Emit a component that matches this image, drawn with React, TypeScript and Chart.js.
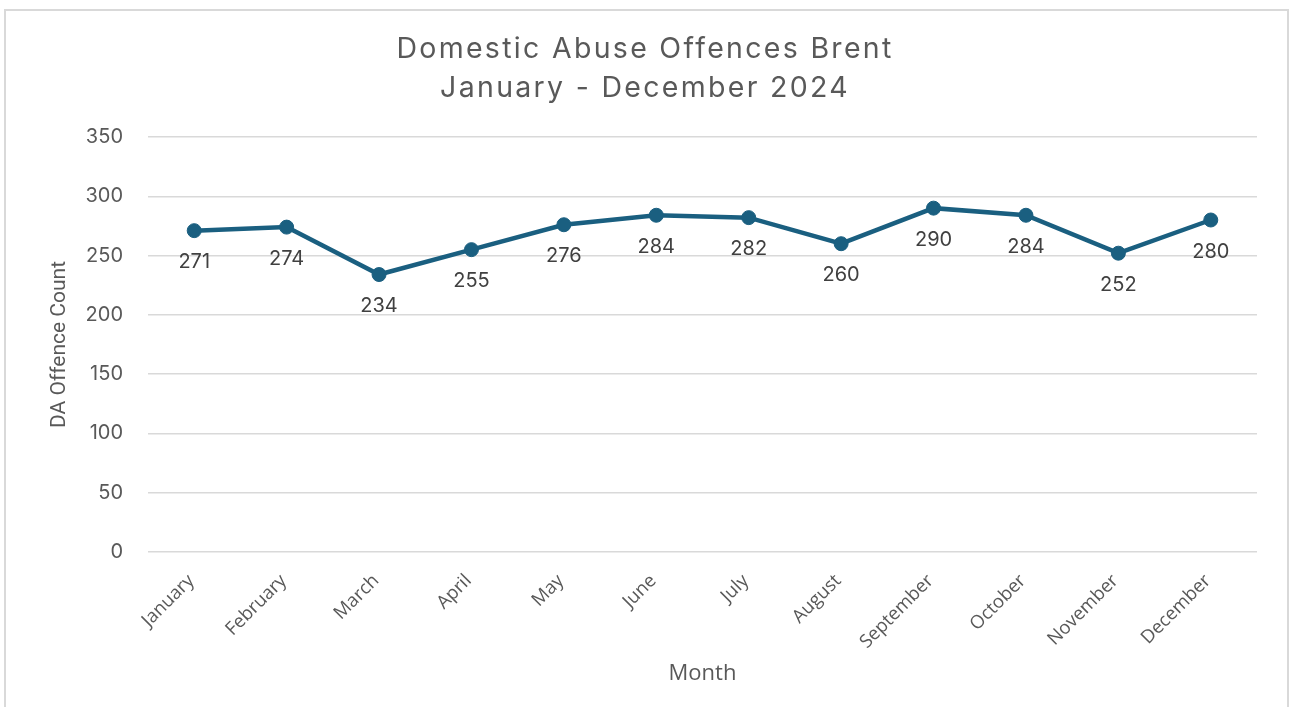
import React, { useEffect, useRef } from "react";
import { Chart, registerables } from "chart.js";

Chart.register(...registerables);

const months: string[] = [
  "January", "February", "March", "April", "May", "June",
  "July", "August", "September", "October", "November", "December",
];
const offences: number[] = [271, 274, 234, 255, 276, 284, 282, 260, 290, 284, 252, 280];
const titleLines: string[] = ["Domestic Abuse Offences Brent", "January - December 2024"];
const yTitle = "DA Offence Count";
const xTitle = "Month";

const LINE_COLOR = "#1a5f80";

const titleDraw = {
  id: "titleDraw",
  afterDraw(chart: any) {
    const ctx = chart.ctx;
    ctx.save();
    ctx.letterSpacing = "2.3px";
    ctx.font = "28.5px Inter, 'Liberation Sans', Arial, sans-serif";
    ctx.fillStyle = "#595959";
    ctx.textAlign = "center";
    ctx.textBaseline = "alphabetic";
    const cx = chart.width / 2;
    ctx.fillText(titleLines[0], cx, 58);
    ctx.fillText(titleLines[1], cx, 97);
    ctx.restore();
  },
};

const valueLabels = {
  id: "valueLabels",
  afterDatasetsDraw(chart: any) {
    const ctx = chart.ctx;
    const meta = chart.getDatasetMeta(0);
    const data = chart.data.datasets[0].data as number[];
    ctx.save();
    ctx.font = "20px Inter, 'Liberation Sans', Arial, sans-serif";
    ctx.fillStyle = "#404040";
    ctx.textAlign = "center";
    ctx.textBaseline = "middle";
    meta.data.forEach((pt: any, i: number) => {
      ctx.fillText(String(data[i]), pt.x, pt.y + 31.5);
    });
    ctx.restore();
  },
};

export default function App() {
  const ref = useRef<HTMLCanvasElement | null>(null);

  useEffect(() => {
    document.body.style.margin = "0";
    const canvas = ref.current;
    if (!canvas) return;
    const chart = new Chart(canvas, {
      type: "line",
      data: {
        labels: months,
        datasets: [
          {
            data: offences,
            borderColor: LINE_COLOR,
            backgroundColor: LINE_COLOR,
            borderWidth: 4.5,
            pointRadius: 7,
            pointHoverRadius: 7,
            pointBorderWidth: 1,
            pointBackgroundColor: LINE_COLOR,
            pointBorderColor: LINE_COLOR,
            tension: 0,
          },
        ],
      },
      options: {
        responsive: false,
        animation: false,
        devicePixelRatio: 1,
        layout: { padding: { left: 0, right: 33, top: 137, bottom: 0 } },
        plugins: {
          legend: { display: false },
          tooltip: { enabled: false },
          title: { display: false },
        },
        scales: {
          x: {
            offset: true,
            grid: { display: false, drawTicks: false },
            border: { display: false },
            ticks: {
              color: "#595959",
              font: { family: "'Open Sans', sans-serif", size: 18.5 },
              minRotation: 45,
              maxRotation: 45,
              padding: 18,
              labelOffset: -3,
              autoSkip: false,
            },
            title: {
              display: true,
              text: xTitle,
              color: "#595959",
              font: { family: "'Open Sans', sans-serif", size: 22 },
              padding: { top: 0, bottom: 20 },
            },
            afterFit(scale: any) {
              scale.height = 155;
            },
          },
          y: {
            min: 0,
            max: 350,
            ticks: {
              stepSize: 50,
              color: "#595959",
              font: { family: "Inter, 'Liberation Sans', Arial, sans-serif", size: 20 },
              padding: 25,
            },
            grid: { color: "#d9d9d9", lineWidth: 1.5, drawTicks: false },
            border: { display: false },
            title: {
              display: true,
              text: yTitle,
              color: "#595959",
              font: { family: "Roboto, sans-serif", size: 21 },
              padding: { top: 47, bottom: 0 },
            },
            afterFit(scale: any) {
              scale.width = 148;
            },
          },
        },
      },
      plugins: [valueLabels, titleDraw],
    });
    return () => chart.destroy();
  }, []);

  return (
    <div style={{ position: "relative", width: 1290, height: 707, overflow: "hidden", background: "#fff" }}>
      <div
        style={{
          position: "absolute",
          left: 4,
          top: 9,
          width: 1285,
          height: 720,
          border: "2px solid #d9d9d9",
          boxSizing: "border-box",
        }}
      />
      <canvas ref={ref} width={1290} height={707} style={{ position: "absolute", left: 0, top: 0 }} />
    </div>
  );
}
